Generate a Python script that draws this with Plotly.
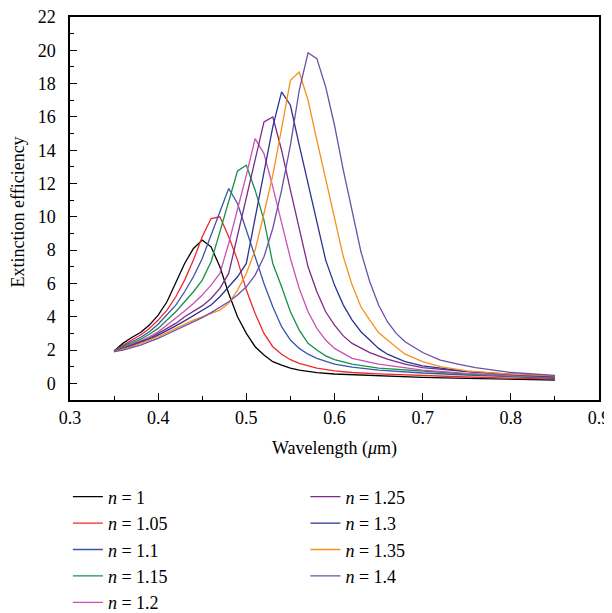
import plotly.graph_objects as go

labels = ["1", "1.05", "1.1", "1.15", "1.2", "1.25", "1.3", "1.35", "1.4"]
colors = ["#000000", "#F0282D", "#3A56A6", "#17904A", "#C951B3",
          "#7A2C88", "#2C3391", "#F7901E", "#6C50A6"]

wl_black = [0.35,0.36,0.37,0.38,0.39,0.40,0.41,0.42,0.43,0.44,0.45,0.46,0.47,0.48,0.49,0.50,0.51,0.52,0.53,0.54,0.55,0.56,0.57,0.58,0.60,0.62,0.65,0.70,0.75,0.80,0.85]
q_black = [1.95,2.4,2.75,3.05,3.5,4.1,4.9,6.0,7.2,8.1,8.6,8.2,7.0,5.4,4.0,3.0,2.2,1.7,1.3,1.1,0.92,0.8,0.7,0.64,0.56,0.52,0.45,0.36,0.3,0.25,0.2]

wl_105 = [0.35,0.36,0.37,0.38,0.39,0.40,0.41,0.42,0.43,0.44,0.45,0.46,0.47,0.48,0.49,0.50,0.51,0.52,0.53,0.54,0.55,0.56,0.57,0.58,0.60,0.62,0.65,0.70,0.75,0.80,0.85]
q_105 = [1.95,2.3,2.6,2.9,3.3,3.8,4.4,5.2,6.2,7.4,8.8,9.9,10.0,8.8,7.4,5.6,4.2,3.0,2.2,1.75,1.42,1.2,1.05,0.92,0.75,0.65,0.57,0.46,0.38,0.31,0.25]

wl_110 = [0.35,0.36,0.37,0.38,0.39,0.40,0.41,0.42,0.43,0.44,0.45,0.46,0.47,0.48,0.49,0.50,0.51,0.52,0.53,0.54,0.55,0.56,0.57,0.58,0.60,0.62,0.65,0.70,0.75,0.80,0.85]
q_110 = [1.95,2.25,2.5,2.75,3.1,3.55,4.1,4.7,5.5,6.4,7.5,8.9,10.4,11.7,10.8,9.2,7.6,6.0,4.6,3.4,2.6,2.1,1.75,1.5,1.15,0.97,0.8,0.62,0.5,0.4,0.3]

wl_115 = [0.35,0.36,0.37,0.38,0.39,0.40,0.41,0.42,0.43,0.44,0.45,0.46,0.47,0.48,0.49,0.50,0.51,0.52,0.53,0.54,0.55,0.56,0.57,0.58,0.59,0.60,0.62,0.65,0.70,0.75,0.80,0.85]
q_115 = [1.92,2.2,2.4,2.65,2.95,3.3,3.8,4.3,4.9,5.5,6.2,7.3,9.1,11.0,12.75,13.1,11.6,9.8,7.2,5.8,4.3,3.2,2.4,2.0,1.65,1.42,1.15,0.92,0.72,0.56,0.45,0.33]

wl_120 = [0.35,0.36,0.37,0.38,0.39,0.40,0.41,0.42,0.43,0.44,0.45,0.46,0.47,0.48,0.49,0.50,0.51,0.52,0.53,0.54,0.55,0.56,0.57,0.58,0.59,0.60,0.62,0.65,0.70,0.75,0.80,0.85]
q_120 = [1.9,2.15,2.35,2.55,2.8,3.1,3.5,3.9,4.35,4.8,5.3,5.9,6.6,8.4,10.4,12.5,14.7,13.8,11.8,9.6,7.5,5.7,4.3,3.3,2.6,2.1,1.5,1.15,0.8,0.6,0.47,0.36]

wl_125 = [0.35,0.36,0.37,0.38,0.39,0.40,0.41,0.42,0.43,0.44,0.45,0.46,0.47,0.48,0.49,0.50,0.51,0.52,0.53,0.54,0.55,0.56,0.57,0.58,0.59,0.60,0.61,0.62,0.64,0.66,0.68,0.70,0.75,0.80,0.85]
q_125 = [1.9,2.1,2.3,2.5,2.7,3.0,3.3,3.6,4.0,4.3,4.65,5.1,5.7,6.6,8.9,11.2,13.5,15.7,16.0,14.0,11.6,9.2,7.0,5.5,4.3,3.5,2.85,2.4,1.85,1.45,1.15,0.95,0.7,0.52,0.38]

wl_130 = [0.35,0.36,0.37,0.38,0.39,0.40,0.41,0.42,0.43,0.44,0.45,0.46,0.47,0.48,0.49,0.50,0.51,0.52,0.53,0.54,0.55,0.56,0.57,0.58,0.59,0.60,0.61,0.62,0.63,0.64,0.65,0.66,0.68,0.70,0.75,0.80,0.85]
q_130 = [1.9,2.1,2.25,2.45,2.65,2.9,3.15,3.45,3.75,4.05,4.35,4.7,5.2,5.8,6.4,7.2,9.9,12.8,15.4,17.5,16.7,14.3,12.0,9.6,7.4,5.9,4.7,3.8,3.1,2.6,2.1,1.75,1.3,1.05,0.72,0.55,0.42]

wl_135 = [0.35,0.36,0.37,0.38,0.39,0.40,0.41,0.42,0.43,0.44,0.45,0.46,0.47,0.48,0.49,0.50,0.51,0.52,0.53,0.54,0.55,0.56,0.57,0.58,0.59,0.60,0.61,0.62,0.63,0.64,0.65,0.66,0.67,0.68,0.70,0.72,0.75,0.80,0.85]
q_135 = [1.9,2.05,2.2,2.4,2.6,2.8,3.05,3.3,3.55,3.8,4.0,4.2,4.4,4.8,5.6,6.6,8.0,10.2,12.5,15.3,18.2,18.7,17.0,14.6,12.3,9.8,7.6,5.9,4.6,3.8,3.05,2.6,2.15,1.75,1.3,1.0,0.75,0.55,0.45]

wl_140 = [0.35,0.36,0.37,0.38,0.39,0.40,0.41,0.42,0.43,0.44,0.45,0.46,0.47,0.48,0.49,0.50,0.51,0.52,0.53,0.54,0.55,0.56,0.57,0.58,0.59,0.60,0.61,0.62,0.63,0.64,0.65,0.66,0.67,0.68,0.69,0.70,0.72,0.74,0.76,0.78,0.80,0.85]
q_140 = [1.9,2.0,2.15,2.3,2.5,2.7,2.95,3.2,3.45,3.7,3.95,4.25,4.55,4.9,5.3,5.8,6.5,7.6,9.3,11.6,14.3,17.6,19.85,19.5,17.8,15.5,12.8,10.3,7.9,6.1,4.7,3.7,3.0,2.5,2.15,1.85,1.4,1.15,0.95,0.8,0.65,0.48]

wls = [wl_black, wl_105, wl_110, wl_115, wl_120, wl_125, wl_130, wl_135, wl_140]
qs = [q_black, q_105, q_110, q_115, q_120, q_125, q_130, q_135, q_140]

FONT = "Liberation Serif"
FS = 18
fig = go.Figure()
for i, (lab, col, x, y) in enumerate(zip(labels, colors, wls, qs)):
    fig.add_trace(go.Scatter(
        x=x, y=y, mode="lines", name="<i>n</i> = " + lab,
        line=dict(color=col, width=1.3),
        legend="legend" if i < 5 else "legend2",
        legendgroup="g" + str(i),
    ))

axis_common = dict(
    showgrid=False, zeroline=False, showline=True, linecolor="black",
    linewidth=1.5, mirror=True, ticks="inside", tickcolor="black",
    tickwidth=1, ticklen=7, automargin=False, ticklabeloverflow="allow",
    tickfont=dict(family=FONT, size=FS, color="black"),
)
fig.update_xaxes(range=[0.3, 0.9], dtick=0.1, tick0=0.3, tickformat=".1f",
                 ticklabelstandoff=1,
                 minor=dict(dtick=0.05, ticks="inside", ticklen=4, tickcolor="black"),
                 title=dict(text="Wavelength (<i>μ</i>m)", font=dict(family=FONT, size=FS, color="black"), standoff=14),
                 **axis_common)
fig.update_yaxes(range=[-1, 22], tickvals=list(range(0, 23, 2)),
                 ticklabelstandoff=9,
                 minor=dict(dtick=1, tick0=0, ticks="inside", ticklen=4, tickcolor="black"),
                 **axis_common)

fig.add_annotation(text="Extinction efficiency", xref="paper", yref="paper",
                   x=-0.098, y=0.49, xanchor="center", yanchor="middle",
                   textangle=-90, showarrow=False,
                   font=dict(family=FONT, size=FS, color="black"))

leg_common = dict(font=dict(family=FONT, size=FS, color="black"), bgcolor="rgba(0,0,0,0)",
                  traceorder="grouped", tracegroupgap=0, xanchor="left", yanchor="top",
                  itemwidth=30)
fig.update_layout(
    width=612, height=613,
    margin=dict(l=62, r=21, t=9, b=221, autoexpand=False),
    paper_bgcolor="white", plot_bgcolor="white",
    showlegend=True,
    legend=dict(x=-0.004, y=-0.205, **leg_common),
    legend2=dict(x=0.445, y=-0.205, **leg_common),
)
fig.write_html("out.html")
